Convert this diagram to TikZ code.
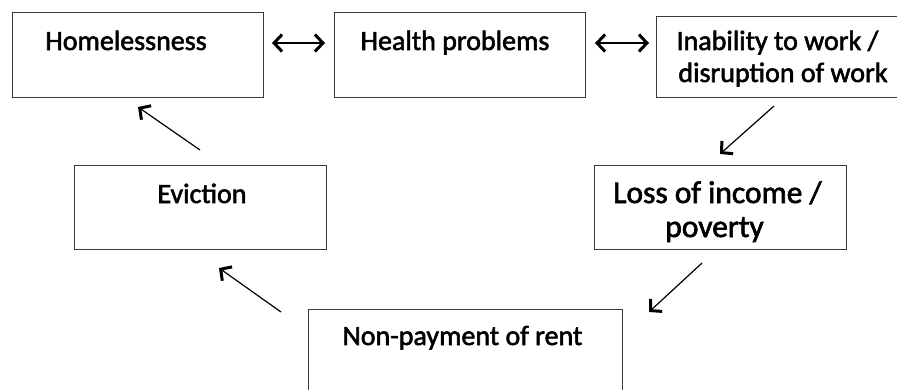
\documentclass[tikz,border=0pt]{standalone}
\usepackage{fontspec}
\setmainfont[FakeBold=2]{Carlito}
\usetikzlibrary{arrows.meta}
\definecolor{boxline}{HTML}{3A3A3A}
\begin{document}
\begin{tikzpicture}[x=1pt,y=-1pt,
  boxnode/.style={draw=boxline,line width=1.4pt,rectangle,inner sep=0pt,anchor=north west},
  txt/.style={anchor=base,inner sep=0pt,font=\fontsize{28}{32}\selectfont},
  bigtxt/.style={anchor=base,inner sep=0pt,font=\fontsize{31.5}{36}\selectfont},
  conn/.style={line width=1.2pt,-{Straight Barb[length=8pt,width=17pt,line width=3pt]}},
  dconn/.style={line width=1.2pt,{Straight Barb[length=8pt,width=17pt,line width=3pt]}-{Straight Barb[length=8pt,width=17pt,line width=3pt]}}]
\useasboundingbox (0,0) rectangle (897,389);
\begin{scope}
\clip (0,0) rectangle (897,389);
\node[boxnode,minimum width=251pt,minimum height=85pt] (home) at (12,12) {};
\node[boxnode,minimum width=251pt,minimum height=85pt] (health) at (334,12) {};
\node[boxnode,minimum width=262pt,minimum height=81pt] (inab) at (656,16) {};
\node[boxnode,minimum width=252pt,minimum height=84pt] (evict) at (74,165) {};
\node[boxnode,minimum width=252pt,minimum height=84pt] (loss) at (594,165) {};
\node[boxnode,minimum width=314pt,minimum height=92pt] (nonpay) at (308,309) {};
\end{scope}
\node[txt] (homeT) at (126,50) {Homelessness};
\node[txt] (healthT) at (455,50) {Health problems};
\node[txt] (inabA) at (777.5,50) {Inability to work /};
\node[txt] (inabB) at (783,82) {disruption of work};
\node[txt] (evictT) at (202,203) {Eviction};
\node[bigtxt] (lossA) at (717.5,203) {Loss of income /};
\node[bigtxt] (lossB) at (714.5,237) {poverty};
\node[txt] (nonpayT) at (462.5,345) {Non-payment of rent};
% connector ends
\coordinate (a1) at (272,43); \coordinate (a2) at (325,43);
\coordinate (b1) at (595,43); \coordinate (b2) at (649,43);
\coordinate (c1) at (774,106); \coordinate (c2) at (720,154);
\coordinate (d1) at (702,263); \coordinate (d2) at (649,312);
\coordinate (e1) at (281,312); \coordinate (e2) at (219,268);
\coordinate (f1) at (200,150); \coordinate (f2) at (138,107);
\draw[dconn] (a1) -- (a2);
\draw[dconn] (b1) -- (b2);
\draw[conn] (c1) -- (c2);
\draw[conn] (d1) -- (d2);
\draw[conn] (e1) -- (e2);
\draw[conn] (f1) -- (f2);
\end{tikzpicture}
\end{document}
